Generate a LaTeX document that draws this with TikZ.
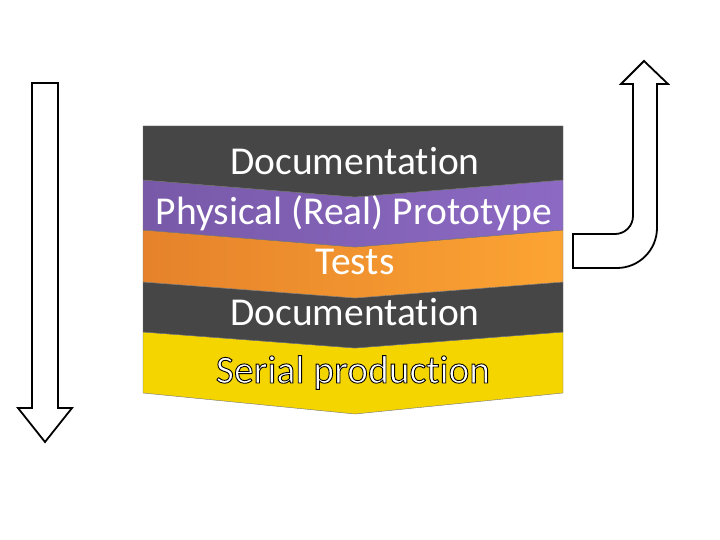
\documentclass[tikz,border=0pt]{standalone}
\usepackage{fontspec}
\setmainfont[Ligatures={NoCommon}]{Carlito}

\definecolor{docgray}{HTML}{464646}
\definecolor{protoL}{HTML}{7859A8}
\definecolor{protoR}{HTML}{8C6AC4}
\definecolor{testL}{HTML}{E5822B}
\definecolor{testR}{HTML}{FCA433}
\definecolor{serialY}{HTML}{F5D500}

\newcommand{\outlined}[1]{\special{pdf:literal 2 Tr 0.9 w 0 0 0 RG}#1\special{pdf:literal 0 Tr}}

\tikzstyle{layer}=[draw=black!55, line width=0.4pt]
\tikzstyle{label}=[anchor=base, inner sep=0pt, text=white, font=\fontsize{39.5}{40}\selectfont]
\tikzstyle{blockarrow}=[draw=black, fill=white, line width=1.8pt, line join=miter]

\begin{document}
\begin{tikzpicture}[x=1pt,y=-1pt]
\useasboundingbox[fill=white] (0,0) rectangle (720,540);

\draw[layer, fill=serialY] (143,332) -- (355,348) -- (563,332) -- (563,393) -- (355,414) -- (143,393) -- cycle;
\draw[layer, fill=docgray] (143,282) -- (355,298) -- (563,282) -- (563,332) -- (355,348) -- (143,332) -- cycle;
\draw[layer, left color=testL, right color=testR] (143,230) -- (355,247) -- (563,230) -- (563,282) -- (355,298) -- (143,282) -- cycle;
\draw[layer, left color=protoL, right color=protoR] (143,180) -- (355,197) -- (563,180) -- (563,230) -- (355,247) -- (143,230) -- cycle;
\draw[layer, fill=docgray] (143,126) -- (563,126) -- (563,180) -- (355,197) -- (143,180) -- cycle;

\node[label] (doc1) at (355,175) {Documentation};
\node[label] (proto) at (354,225) {Physical (Real) Prototype};
\node[label] (tests) at (355,274) {Tests};
\node[label] (doc2) at (355,325) {Documentation};
\node[label] (serial) at (353,383) {\outlined{Serial production}};

\draw[blockarrow] (32,83) -- (58,83) -- (58,408) -- (72,408) -- (45,442) -- (18,408) -- (32,408) -- cycle;

\draw[blockarrow] (573,234) -- (615,234) .. controls (625,234) and (633,226) .. (633,216)
  -- (633,84) -- (621,84) -- (644,61) -- (668,84) -- (657,84) -- (657,228)
  .. controls (657,250) and (639,268) .. (617,268) -- (573,268) -- cycle;
\end{tikzpicture}
\end{document}
